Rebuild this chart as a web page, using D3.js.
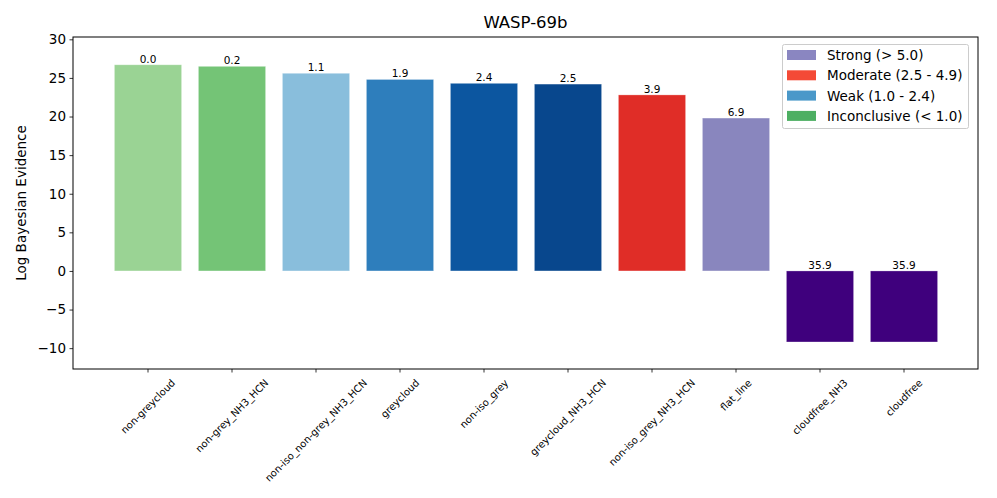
<!DOCTYPE html>
<html>
<head>
<meta charset="utf-8">
<script src="https://cdn.jsdelivr.net/npm/d3@7"></script>
<style>
body { margin: 0; background: #fff; }
svg { display: block; font-family: "DejaVu Sans", sans-serif; }
</style>
</head>
<body>
<svg id="chart" width="997" height="498"></svg>
<script>
const categories = ["non-greycloud", "non-grey_NH3_HCN", "non-iso_non-grey_NH3_HCN", "greycloud", "non-iso_grey", "greycloud_NH3_HCN", "non-iso_grey_NH3_HCN", "flat_line", "cloudfree_NH3", "cloudfree"];
const values = [26.7, 26.5, 25.6, 24.8, 24.3, 24.2, 22.8, 19.8, -9.2, -9.2];
const diffLabels = ["0.0", "0.2", "1.1", "1.9", "2.4", "2.5", "3.9", "6.9", "35.9", "35.9"];
const barColors = ["#9ad394", "#74c476", "#89bedc", "#2e7ebc", "#0c56a0", "#08478d", "#e02d27", "#8986be", "#3f007d", "#3f007d"];
const legendLabels = ["Strong (> 5.0)", "Moderate (2.5 - 4.9)", "Weak (1.0 - 2.4)", "Inconclusive (< 1.0)"];
const legendColors = ["#8a86c1", "#f44a36", "#4a98c9", "#4daf62"];
const yTicks = [-10, -5, 0, 5, 10, 15, 20, 25, 30];
const yDomain = [-12.7, 30.3];
const title = "WASP-69b";
const yLabel = "Log Bayesian Evidence";

const svg = d3.select("#chart");
const L = 73, R = 978, T = 37, B = 369;

const x = d3.scaleBand().domain(categories).range([106, 946]).paddingInner(0.2).paddingOuter(0.1);
const y = d3.scaleLinear().domain(yDomain).range([B, T]);

// bars
svg.append("g").selectAll("rect").data(values).join("rect")
  .attr("x", (d, i) => x(categories[i]))
  .attr("width", x.bandwidth())
  .attr("y", d => y(Math.max(0, d)))
  .attr("height", d => Math.abs(y(d) - y(0)))
  .attr("fill", (d, i) => barColors[i])
  .attr("stroke", "rgba(255,255,255,0.35)")
  .attr("stroke-width", 0.8);

// value labels
svg.append("g").selectAll("text").data(values).join("text")
  .attr("x", (d, i) => x(categories[i]) + x.bandwidth() / 2)
  .attr("y", d => y(Math.max(0, d)) - 2)
  .attr("text-anchor", "middle")
  .attr("font-size", 10.5)
  .attr("fill", "#000")
  .text((d, i) => diffLabels[i]);

// y axis
const yAxis = d3.axisLeft(y).tickValues(yTicks).tickSize(3.5).tickPadding(3.5)
  .tickFormat(d => d < 0 ? "\u2212" + Math.abs(d) : d);
const gy = svg.append("g").attr("transform", `translate(${L},0)`).call(yAxis);
gy.select(".domain").remove();
gy.selectAll("text").attr("font-size", 13.5).attr("font-family", "DejaVu Sans").attr("fill", "#000");
gy.selectAll("line").attr("stroke", "#000").attr("stroke-width", 0.8);

// x ticks
const xg = svg.append("g");
const xfs = 10;
categories.forEach(c => {
  const cx = x(c) + x.bandwidth() / 2;
  xg.append("line").attr("x1", cx).attr("x2", cx).attr("y1", B).attr("y2", B + 3.5)
    .attr("stroke", "#000").attr("stroke-width", 0.8);
  const t = xg.append("text").attr("font-size", xfs).attr("text-anchor", "middle")
    .attr("dominant-baseline", "central").attr("fill", "#000").text(c);
  const w = t.node().getComputedTextLength();
  const h = xfs * 1.15;
  const bh = (w + h) * Math.SQRT1_2;
  t.attr("transform", `translate(${cx},${B + 8 + bh / 2}) rotate(-45)`);
});

// frame
svg.append("rect").attr("x", L).attr("y", T).attr("width", R - L).attr("height", B - T)
  .attr("fill", "none").attr("stroke", "#000").attr("stroke-width", 1);

// title
svg.append("text").attr("x", (L + R) / 2).attr("y", 28).attr("text-anchor", "middle")
  .attr("font-size", 16.5).attr("fill", "#000").text(title);

// y label
svg.append("text").attr("transform", `translate(26,${(T + B) / 2}) rotate(-90)`)
  .attr("text-anchor", "middle").attr("font-size", 13.5).attr("fill", "#000").text(yLabel);

// legend
const lg = svg.append("g");
lg.append("rect").attr("x", 782.5).attr("y", 44.5).attr("width", 186).attr("height", 84)
  .attr("rx", 2).attr("fill", "#fff").attr("fill-opacity", 0.8).attr("stroke", "#ccc").attr("stroke-width", 1);
legendLabels.forEach((lab, i) => {
  const cy = 55 + i * 20.3;
  lg.append("rect").attr("x", 787).attr("y", cy - 5).attr("width", 29).attr("height", 10)
    .attr("fill", legendColors[i]);
  lg.append("text").attr("x", 827).attr("y", cy).attr("dominant-baseline", "central")
    .attr("font-size", 13.5).attr("fill", "#000").text(lab);
});
</script>
</body>
</html>
